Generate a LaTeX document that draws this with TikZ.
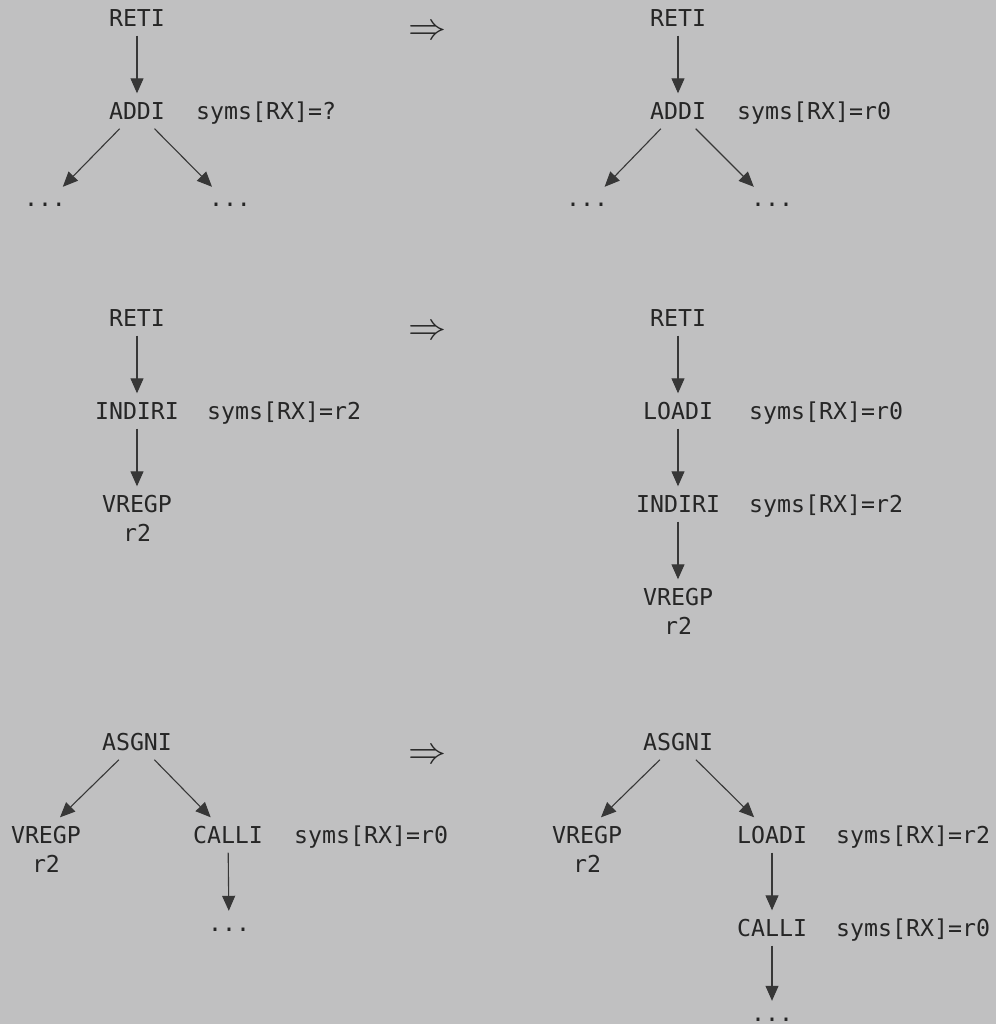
\documentclass[tikz,border=0pt]{standalone}
\usepackage{fontspec}
\usepackage{graphicx}
\usetikzlibrary{arrows.meta}
\newfontfamily\treemono{DejaVu Sans Mono}
\definecolor{bgcol}{RGB}{192,192,193}
\definecolor{txtcol}{RGB}{38,38,38}
\definecolor{linecol}{RGB}{55,55,55}
\tikzset{
  tn/.style={font=\treemono\fontsize{23.25pt}{29pt}\selectfont, text=txtcol,
    inner xsep=3pt, inner ysep=9pt, text height=17pt, text depth=0pt, anchor=center},
  lbl/.style={tn, inner sep=0pt, anchor=west},
  dotsnode/.style={font=\treemono\fontsize{23.25pt}{29pt}\selectfont, text=txtcol,
    inner xsep=12pt, inner ysep=16pt, text height=4pt, text depth=0pt, anchor=center},
  implies/.style={text=txtcol, inner sep=0pt, anchor=center},
  arr/.style={draw=linecol, line width=1.1pt, -{Triangle[width=13pt,length=15pt]}},
}
\newcommand{\twoline}[2]{\begin{tabular}[t]{@{}c@{}}#1\\#2\end{tabular}}
\newcommand{\impl}{\scalebox{3.8}{$\Rightarrow$}}
\begin{document}
\begin{tikzpicture}[x=1pt,y=-1pt]
\fill[bgcol] (0,0) rectangle (996,1024);
\useasboundingbox (0,0) rectangle (996,1024);

% ---------- panel 1 ----------
\node[tn] (r1a) at (137,18) {RETI};
\node[tn] (a1a) at (137,111) {ADDI};
\node[lbl] (s1a) at (196,111) {syms[RX]=?};
\node[dotsnode] (d1a) at (45,205) {...};
\node[dotsnode] (d1b) at (230,205) {...};
\draw[arr] (r1a) -- (a1a);
\draw[arr] (a1a) -- (d1a);
\draw[arr] (a1a) -- (d1b);

\node[implies] (imp1) at (427.5,33) {\impl};

\node[tn] (r1b) at (678,18) {RETI};
\node[tn] (a1b) at (678,111) {ADDI};
\node[lbl] (s1b) at (737,111) {syms[RX]=r0};
\node[dotsnode] (d1c) at (587,205) {...};
\node[dotsnode] (d1d) at (772,205) {...};
\draw[arr] (r1b) -- (a1b);
\draw[arr] (a1b) -- (d1c);
\draw[arr] (a1b) -- (d1d);

% ---------- panel 2 ----------
\node[tn] (r2a) at (137,318) {RETI};
\node[tn] (i2a) at (137,411) {INDIRI};
\node[lbl] (s2a) at (207,411) {syms[RX]=r2};
\node[tn] (v2a) at (137,504) {\twoline{VREGP}{r2}};
\draw[arr] (r2a) -- (i2a);
\draw[arr] (i2a) -- (v2a);

\node[implies] (imp2) at (427.5,333) {\impl};

\node[tn] (r2b) at (678,318) {RETI};
\node[tn] (l2b) at (678,411) {LOADI};
\node[lbl] (s2b) at (749,411) {syms[RX]=r0};
\node[tn] (i2b) at (678,504) {INDIRI};
\node[lbl] (s2c) at (749,504) {syms[RX]=r2};
\node[tn] (v2b) at (678,597) {\twoline{VREGP}{r2}};
\draw[arr] (r2b) -- (l2b);
\draw[arr] (l2b) -- (i2b);
\draw[arr] (i2b) -- (v2b);

% ---------- panel 3 ----------
\node[tn] (s3a) at (137,742) {ASGNI};
\node[tn] (v3a) at (46,835) {\twoline{VREGP}{r2}};
\node[tn] (c3a) at (228,835) {CALLI};
\node[lbl] (y3a) at (294,835) {syms[RX]=r0};
\node[dotsnode] (d3a) at (229,929) {...};
\draw[arr] (s3a) -- ([xshift=14pt]v3a.north);
\draw[arr] (s3a) -- (c3a);
\draw[arr] (c3a) -- (d3a);

\node[implies] (imp3) at (427.5,757) {\impl};

\node[tn] (s3b) at (678,742) {ASGNI};
\node[tn] (v3b) at (587,835) {\twoline{VREGP}{r2}};
\node[tn] (l3b) at (772,835) {LOADI};
\node[lbl] (y3b) at (836,835) {syms[RX]=r2};
\node[tn] (c3b) at (772,928) {CALLI};
\node[lbl] (y3c) at (836,928) {syms[RX]=r0};
\node[dotsnode] (d3b) at (772,1019) {...};
\draw[arr] (s3b) -- ([xshift=14pt]v3b.north);
\draw[arr] (s3b) -- (l3b);
\draw[arr] (l3b) -- (c3b);
\draw[arr] (c3b) -- (d3b);
\end{tikzpicture}
\end{document}
